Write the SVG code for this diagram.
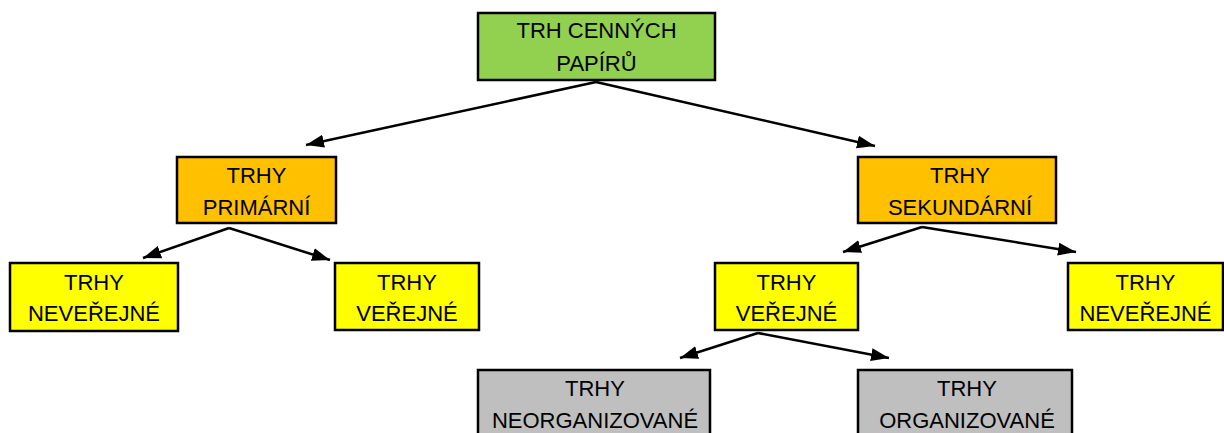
<svg xmlns="http://www.w3.org/2000/svg" width="1224" height="433" viewBox="0 0 1224 433">
  <style>
    .box { stroke: #000; stroke-width: 2.5; }
    .green { fill: #92D050; }
    .orange { fill: #FFC000; }
    .yellow { fill: #FFFF00; }
    .gray { fill: #BFBFBF; }
    text { font-family: "Liberation Sans", Arial, sans-serif; font-size: 22px; fill: #000; text-anchor: middle; }
    .edge { stroke: #000; stroke-width: 2.5; fill: none; marker-end: url(#arrow); }
  </style>
  <defs>
    <marker id="arrow" markerUnits="userSpaceOnUse" markerWidth="20" markerHeight="14" refX="18" refY="7" orient="auto">
      <path d="M0,0.5 L18,7 L0,13.5 z" fill="#000"/>
    </marker>
  </defs>
  <rect width="1224" height="433" fill="#fff"/>

  <g id="connectors">
    <line class="edge" x1="596" y1="82" x2="306" y2="145"/>
    <line class="edge" x1="596" y1="82" x2="875" y2="146"/>
    <line class="edge" x1="229" y1="228" x2="143" y2="258"/>
    <line class="edge" x1="229" y1="228" x2="330" y2="260"/>
    <line class="edge" x1="922" y1="227" x2="843" y2="252"/>
    <line class="edge" x1="922" y1="227" x2="1076" y2="252"/>
    <line class="edge" x1="758" y1="333" x2="680" y2="358"/>
    <line class="edge" x1="758" y1="333" x2="889" y2="358"/>
  </g>

  <g id="trh-cennych-papiru">
    <rect class="box green" x="478" y="13" width="237" height="67"/>
    <text x="596.5" y="38">TRH CENNÝCH</text>
    <text x="596.5" y="71">PAPÍRŮ</text>
  </g>

  <g id="trhy-primarni">
    <rect class="box orange" x="177" y="157" width="159" height="66"/>
    <text x="256.5" y="183">TRHY</text>
    <text x="256.5" y="215">PRIMÁRNÍ</text>
  </g>

  <g id="trhy-sekundarni">
    <rect class="box orange" x="858" y="157" width="198" height="66"/>
    <text x="960" y="183">TRHY</text>
    <text x="960" y="215">SEKUNDÁRNÍ</text>
  </g>

  <g id="primarni-neverejne">
    <rect class="box yellow" x="10" y="263" width="168" height="68"/>
    <text x="94" y="290">TRHY</text>
    <text x="94" y="321">NEVEŘEJNÉ</text>
  </g>

  <g id="primarni-verejne">
    <rect class="box yellow" x="335" y="263" width="144" height="67"/>
    <text x="407" y="290">TRHY</text>
    <text x="407" y="321">VEŘEJNÉ</text>
  </g>

  <g id="sekundarni-verejne">
    <rect class="box yellow" x="715" y="263" width="143" height="67"/>
    <text x="786.5" y="290">TRHY</text>
    <text x="786.5" y="321">VEŘEJNÉ</text>
  </g>

  <g id="sekundarni-neverejne">
    <rect class="box yellow" x="1068" y="263" width="155" height="67"/>
    <text x="1145.5" y="290">TRHY</text>
    <text x="1145.5" y="321">NEVEŘEJNÉ</text>
  </g>

  <g id="trhy-neorganizovane">
    <rect class="box gray" x="478" y="370" width="232" height="70"/>
    <text x="595" y="396">TRHY</text>
    <text x="595" y="428">NEORGANIZOVANÉ</text>
  </g>

  <g id="trhy-organizovane">
    <rect class="box gray" x="858" y="370" width="214" height="70"/>
    <text x="967" y="396">TRHY</text>
    <text x="967" y="428">ORGANIZOVANÉ</text>
  </g>
</svg>
